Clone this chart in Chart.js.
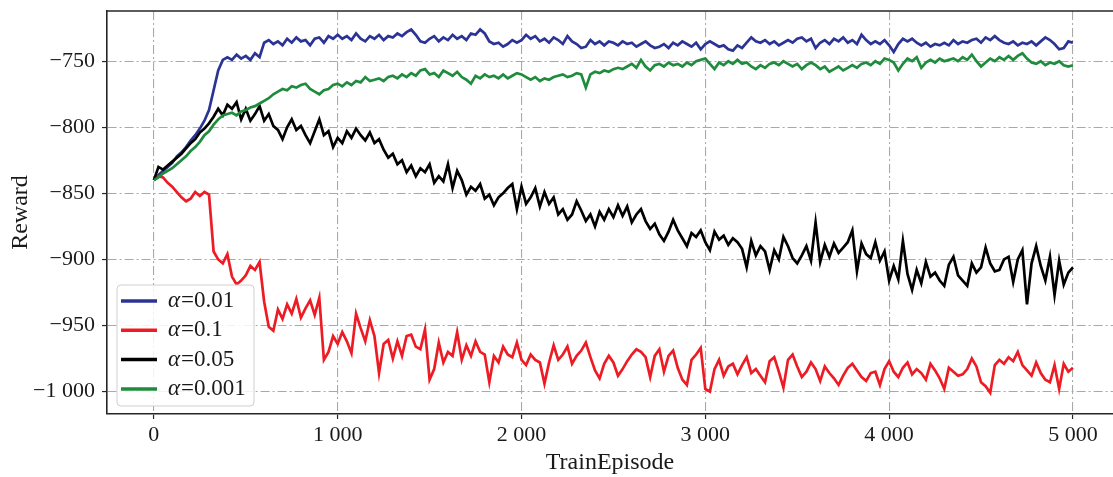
<!DOCTYPE html>
<html>
<head>
<meta charset="utf-8">
<script src="https://cdn.jsdelivr.net/npm/chart.js@4.4.0/dist/chart.umd.min.js"></script>
<style>
html, body { margin: 0; padding: 0; background: #fff; }
canvas { display: block; }
</style>
</head>
<body>
<canvas id="chart" width="1113" height="477"></canvas>
<script>
// episodes sampled every 25 steps, 0 .. 5000
const episodes = Array.from({ length: 201 }, (_, i) => i * 25);

const seriesLabels = ['α=0.01', 'α=0.1', 'α=0.05', 'α=0.001'];
const seriesColors = ['#2b3494', '#ed1c24', '#000000', '#1f8b3c'];

// alpha = 0.01 (blue)
const rewardA001 = [
  -840,-836,-833,-830,-827,-822,-819,-815,-810,-806,
  -801,-795,-787,-772,-757,-749,-747,-749,-745,-748,
  -746,-749,-744,-747,-736,-734,-737,-735,-738,-733,
  -736,-732,-735,-734,-738,-733,-732,-736,-731,-733,
  -730,
  -733,-731,-734,-729,-733,-735,-731,-733,-730,-734,
  -731,-732,-729,-731,-728,-726,-730,-735,-736,-733,
  -731,-735,-732,-734,-730,-733,-731,-734,-729,-730,
  -726,-729,-735,-737,-736,-739,-737,-734,-736,-734,
  -730,-733,-731,-735,-733,-736,-732,-734,-737,-731,
  -735,-737,-740,-739,-734,-737,-735,-738,-735,-736,
  -738,-735,-737,-736,-739,-737,-735,-738,-740,-739,
  -737,-740,-736,-738,-735,-737,-739,-736,-741,-737,
  -735,-737,-739,-738,-741,-742,-738,-740,-736,-732,
  -735,-736,-734,-737,-735,-738,-736,-734,-736,-733,
  -732,-735,-733,-740,-736,-734,-737,-733,-735,-732,
  -736,-734,-737,-730,-734,-737,-735,-737,-734,-738,
  -743,-737,-733,-735,-733,-736,-738,-736,-739,-737,
  -738,-736,-738,-734,-737,-735,-736,-734,-733,-736,
  -732,-734,-731,-734,-736,-737,-735,-738,-736,-737,
  -735,-738,-735,-732,-734,-737,-741,-740,-735,-736
];

// alpha = 0.1 (red)
const rewardA01 = [
  -840,-837,-838,-842,-845,-849,-853,-856,-854,-849,
  -852,-849,-851,-894,-900,-903,-896,-913,-919,-916,
  -912,-905,-908,-902,-932,-951,-954,-938,-945,-934,
  -941,-930,-944,-937,-931,-942,-929,-976,-970,-958,
  -964,
  -955,-962,-971,-941,-952,-962,-946,-958,-986,-964,
  -961,-975,-962,-973,-958,-957,-966,-968,-953,-991,
  -983,-963,-978,-970,-973,-955,-976,-965,-973,-962,
  -970,-972,-993,-973,-978,-966,-972,-974,-963,-976,
  -980,-972,-976,-978,-994,-978,-965,-976,-972,-966,
  -979,-973,-969,-963,-974,-984,-990,-979,-973,-978,
  -988,-983,-977,-972,-968,-970,-974,-989,-973,-968,
  -985,-973,-969,-982,-991,-995,-976,-972,-967,-998,
  -1000,-983,-976,-988,-981,-979,-987,-980,-974,-986,
  -983,-988,-993,-977,-974,-985,-997,-976,-972,-981,
  -989,-985,-978,-983,-992,-981,-986,-990,-995,-988,
  -982,-979,-984,-989,-992,-986,-985,-995,-983,-977,
  -985,-989,-982,-978,-987,-983,-986,-991,-979,-984,
  -990,-998,-982,-985,-988,-987,-983,-975,-981,-993,
  -996,-1001,-980,-976,-979,-974,-977,-970,-980,-984,
  -988,-978,-986,-991,-993,-980,-998,-979,-985,-982
];

// alpha = 0.05 (black)
const rewardA005 = [
  -840,-830,-832,-829,-826,-823,-820,-816,-812,-809,
  -804,-801,-797,-792,-786,-791,-783,-786,-781,-794,
  -786,-795,-790,-784,-795,-790,-799,-802,-809,-800,
  -794,-802,-799,-806,-812,-803,-794,-806,-803,-815,
  -808,
  -812,-803,-808,-801,-806,-810,-804,-812,-809,-817,
  -823,-820,-828,-825,-834,-829,-837,-831,-834,-828,
  -842,-837,-841,-828,-846,-833,-840,-851,-845,-848,
  -843,-854,-851,-859,-853,-850,-846,-843,-862,-845,
  -858,-853,-846,-860,-849,-858,-853,-866,-862,-870,
  -866,-856,-863,-871,-866,-875,-864,-870,-862,-868,
  -859,-867,-860,-872,-866,-862,-871,-877,-873,-881,
  -886,-879,-870,-878,-884,-890,-880,-883,-878,-887,
  -893,-879,-885,-882,-889,-884,-887,-892,-906,-886,
  -897,-890,-894,-908,-893,-900,-883,-890,-899,-903,
  -897,-890,-901,-872,-902,-889,-898,-888,-895,-891,
  -887,-878,-909,-888,-896,-899,-887,-901,-894,-916,
  -905,-915,-886,-911,-923,-908,-918,-902,-913,-910,
  -916,-920,-904,-898,-912,-916,-920,-903,-910,-906,
  -891,-903,-909,-908,-900,-898,-917,-900,-893,-934,
  -903,-890,-905,-916,-898,-927,-901,-919,-910,-906
];

// alpha = 0.001 (green)
const rewardA0001 = [
  -840,-838,-835,-833,-831,-828,-825,-822,-818,-815,
  -811,-806,-803,-798,-794,-791,-790,-789,-791,-788,
  -787,-785,-784,-782,-780,-778,-775,-773,-771,-772,
  -769,-770,-768,-767,-771,-773,-775,-772,-771,-768,
  -767,
  -769,-766,-768,-765,-766,-762,-765,-764,-763,-765,
  -762,-761,-763,-760,-762,-759,-761,-757,-756,-760,
  -759,-762,-757,-759,-761,-758,-762,-764,-767,-761,
  -763,-760,-762,-761,-763,-760,-763,-761,-759,-760,
  -762,-764,-762,-765,-763,-764,-762,-761,-760,-762,
  -761,-759,-760,-770,-760,-758,-759,-757,-758,-756,
  -755,-756,-754,-752,-755,-749,-754,-757,-753,-752,
  -754,-751,-753,-752,-754,-751,-753,-750,-749,-748,
  -752,-756,-751,-753,-750,-752,-749,-752,-751,-754,
  -756,-753,-755,-752,-751,-753,-750,-752,-754,-752,
  -756,-753,-751,-753,-756,-754,-758,-756,-754,-757,
  -755,-753,-755,-752,-751,-753,-750,-752,-748,-749,
  -751,-757,-752,-748,-750,-747,-755,-751,-749,-751,
  -748,-750,-749,-748,-750,-747,-749,-745,-750,-754,
  -751,-748,-750,-747,-749,-746,-749,-746,-744,-748,
  -751,-752,-750,-753,-751,-752,-750,-753,-754,-753
];

const seriesValues = [rewardA001, rewardA01, rewardA005, rewardA0001];

const xTicks = [0, 1000, 2000, 3000, 4000, 5000];
const xTickLabels = ['0', '1 000', '2 000', '3 000', '4 000', '5 000'];
const yTicks = [-1000, -950, -900, -850, -800, -750];
const yTickLabels = ['\u22121 000', '\u2212950', '\u2212900', '\u2212850', '\u2212800', '\u2212750'];

const FONT = '"Liberation Serif", "Times New Roman", serif';
const gridColor = '#a9a9a9';
const frameColor = '#262626';

// top spine (matplotlib-style frame)
const frameTop = {
    id: 'frameTop',
    afterDraw(chart) {
        const { ctx, chartArea } = chart;
        ctx.save();
        ctx.strokeStyle = frameColor;
        ctx.lineWidth = 1.6;
        ctx.beginPath();
        ctx.moveTo(chartArea.left, chartArea.top);
        ctx.lineTo(chartArea.right, chartArea.top);
        ctx.stroke();
        ctx.restore();
    }
};

// legend box in the lower left corner, alpha drawn in italic
const legendBox = {
    id: 'legendBox',
    afterDatasetsDraw(chart) {
        const { ctx, chartArea } = chart;
        const bx = chartArea.left + 10;
        const bh = 121;
        const by = chartArea.bottom - bh - 8;
        const bw = 137;
        ctx.save();
        ctx.beginPath();
        ctx.roundRect(bx, by, bw, bh, 4);
        ctx.fillStyle = 'rgba(255,255,255,0.85)';
        ctx.fill();
        ctx.strokeStyle = '#cfcfcf';
        ctx.lineWidth = 1;
        ctx.stroke();

        seriesLabels.forEach((label, i) => {
            const ly = by + 16 + i * 29.3;
            ctx.strokeStyle = seriesColors[i];
            ctx.lineWidth = 3.5;
            ctx.beginPath();
            ctx.moveTo(bx + 4, ly);
            ctx.lineTo(bx + 40, ly);
            ctx.stroke();

            ctx.fillStyle = '#1a1a1a';
            ctx.textBaseline = 'middle';
            ctx.font = 'italic 23px ' + FONT;
            const greek = label.charAt(0);
            ctx.fillText(greek, bx + 51, ly);
            const gw = ctx.measureText(greek).width;
            ctx.font = '23px ' + FONT;
            ctx.fillText(label.slice(1), bx + 51 + gw + 1, ly);
        });
        ctx.restore();
    }
};

const datasets = seriesValues.map((vals, i) => ({
    label: seriesLabels[i],
    data: episodes.map((ep, j) => ({ x: ep, y: vals[j] })),
    borderColor: seriesColors[i],
    borderWidth: 2.7,
    pointRadius: 0,
    tension: 0,
    fill: false,
    order: seriesValues.length - 1 - i
}));

document.addEventListener('DOMContentLoaded', function() {
    const ctx = document.getElementById('chart').getContext('2d');
    new Chart(ctx, {
        type: 'line',
        data: { datasets: datasets },
        options: {
            responsive: false,
            animation: false,
            layout: { padding: { top: 11, left: 0, right: 0, bottom: 0 } },
            plugins: {
                legend: { display: false },
                tooltip: { enabled: false }
            },
            scales: {
                x: {
                    type: 'linear',
                    min: -255,
                    max: 5218,
                    afterFit(scale) {
                        scale.height = 63;
                        scale.paddingLeft = 0;
                        scale.paddingRight = 0;
                    },
                    afterBuildTicks(scale) { scale.ticks = xTicks.map(v => ({ value: v })); },
                    ticks: {
                        color: '#1a1a1a',
                        font: { family: FONT, size: 22 },
                        padding: 3,
                        maxRotation: 0,
                        autoSkip: false,
                        callback: (value) => xTickLabels[xTicks.indexOf(value)]
                    },
                    grid: {
                        color: gridColor,
                        lineWidth: 1.1,
                        drawTicks: true,
                        tickLength: 5,
                        tickColor: frameColor,
                        tickWidth: 1.2
                    },
                    border: { display: true, color: frameColor, width: 1.6, dash: [9, 3, 2, 3] },
                    title: {
                        display: true,
                        text: 'TrainEpisode',
                        color: '#1a1a1a',
                        font: { family: FONT, size: 24 },
                        padding: { top: 0, bottom: 0 }
                    }
                },
                y: {
                    type: 'linear',
                    min: -1017,
                    max: -712,
                    afterFit(scale) {
                        scale.width = 107;
                        scale.paddingTop = 0;
                        scale.paddingBottom = 0;
                    },
                    afterBuildTicks(scale) { scale.ticks = yTicks.map(v => ({ value: v })); },
                    ticks: {
                        color: '#1a1a1a',
                        font: { family: FONT, size: 22 },
                        padding: 7,
                        autoSkip: false,
                        callback: (value) => yTickLabels[yTicks.indexOf(value)]
                    },
                    grid: {
                        color: gridColor,
                        lineWidth: 1.1,
                        drawTicks: true,
                        tickLength: 5,
                        tickColor: frameColor,
                        tickWidth: 1.2
                    },
                    border: { display: true, color: frameColor, width: 1.6, dash: [9, 3, 2, 3] },
                    title: {
                        display: true,
                        text: 'Reward',
                        color: '#1a1a1a',
                        font: { family: FONT, size: 24 },
                        padding: { top: 6, bottom: 0 }
                    }
                }
            }
        },
        plugins: [frameTop, legendBox]
    });
});
</script>
</body>
</html>
